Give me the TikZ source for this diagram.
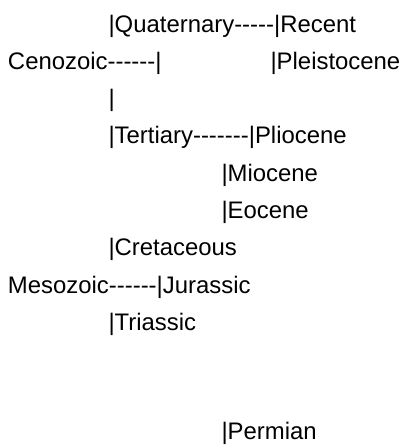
\documentclass[tikz,border=0pt]{standalone}
\usepackage{fontspec}
\setmainfont{Liberation Sans}[Ligatures=TeXOff]
\usepackage{tikz}
\usetikzlibrary{positioning}

\begin{document}
\begin{tikzpicture}[zeile/.style={anchor=base west, inner sep=0pt, outer sep=0pt}, x=1pt, y=-1pt,
		font=\fontsize{23.9}{28}\selectfont]
	%Bildbereich
	\useasboundingbox (0,0) rectangle (402,445);
	% Kaenozoikum
	\node[zeile] (quaternary) at (108.5,32) {|Quaternary-----|Recent};
	\node[zeile] (cenozoic) at (8,69.3) {Cenozoic------|};
	\node[zeile] (pleistocene) at (270.5,69.3) {|Pleistocene};
	\node[zeile] (strich) at (108.5,106.6) {|};
	\node[zeile] (tertiary) at (108.5,143.9) {|Tertiary-------|Pliocene};
	% Epochen rechts
	\foreach \n/\y/\t in {miocene/181.2/Miocene, eocene/218.5/Eocene, permian/439.3/Permian}
		\node[zeile] (\n) at (221.5,\y) {|\t};
	% Mesozoikum
	\node[zeile] (cretaceous) at (108.5,255.8) {|Cretaceous};
	\node[zeile] (mesozoic) at (8,293.1) {Mesozoic------|Jurassic};
	\node[zeile] (triassic) at (108.5,330.4) {|Triassic};
\end{tikzpicture}
\end{document}
